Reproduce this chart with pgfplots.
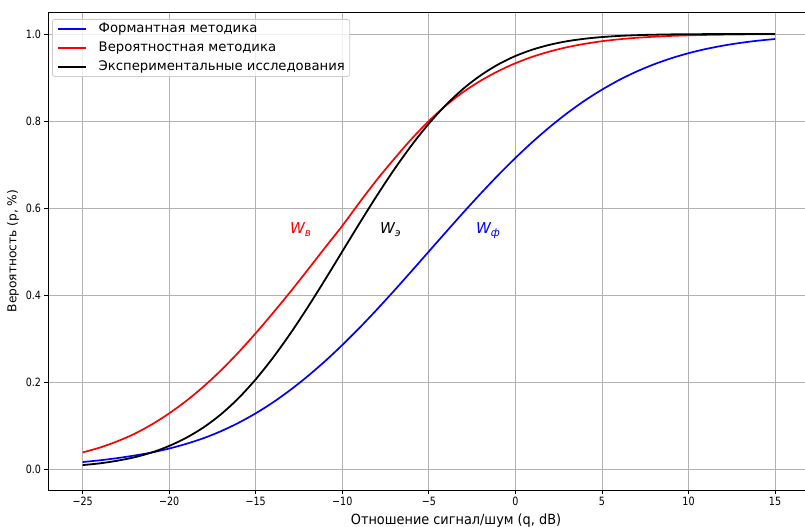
\documentclass[border=0pt]{standalone}
\usepackage{fontspec}
\setmainfont{DejaVu Sans}
\newfontfamily\tickfont{DejaVu Sans}[FakeStretch=0.84]
\newfontfamily\labfont{DejaVu Sans}[FakeStretch=0.92]
\usepackage{pgfplots}
\pgfplotsset{compat=1.18}
\begin{document}
\begin{tikzpicture}
\begin{axis}[
  scale only axis, width=757bp, height=478bp,
  xmin=-27, xmax=16.73, ymin=-0.0483, ymax=1.0506,
  axis x line*=box, axis y line*=left,
  axis line style={black, line width=0.8bp},
  xtick pos=left, ytick pos=left,
  tick align=outside, major tick length=3.5bp,
  tick style={black, line width=0.8bp},
  xtick={-25,-20,-15,-10,-5,0,5,10,15},
  xticklabels={−25,−20,−15,−10,−5,0,5,10,15},
  ytick={0,0.2,0.4,0.6,0.8,1.0},
  yticklabels={0.0,0.2,0.4,0.6,0.8,1.0},
  ticklabel style={font=\fontsize{11.4bp}{13bp}\tickfont},
  xmajorgrids, ymajorgrids,
  grid style={gray!60, line width=0.8bp},
  every axis x label/.style={at={(axis description cs:0.539,0)}, anchor=base, yshift=-34bp},
  every axis y label/.style={at={(axis description cs:0,0.5)}, xshift=-31.5bp, rotate=90, anchor=base},
  xlabel={\fontsize{14bp}{16bp}\labfont Отношение сигнал/шум (q, dB)},
  ylabel={\fontsize{12.2bp}{14bp}\selectfont Вероятность (р, \%)},
  legend cell align=left,
  legend style={at={(0,1)}, anchor=north west, xshift=4bp, yshift=-7bp,
    draw=gray!40, line width=0.8bp, rounded corners=2.5bp, fill=white, fill opacity=0.8, text opacity=1,
    inner xsep=5bp, inner ysep=0.5bp,
    font=\fontsize{13.2bp}{16bp}\selectfont,
    nodes={inner xsep=0bp, inner ysep=2.85bp, text height=10bp, text depth=3bp},
    /tikz/every odd column/.append style={column sep=11.5bp}},
  legend image code/.code={\draw[#1] (0bp,0bp) -- (28bp,0bp);},
]
\addplot[blue, line width=1.7bp, smooth] coordinates {
(-25,0.016)(-24,0.020)(-23,0.025)(-22,0.031)(-21,0.038)(-20,0.047)(-19,0.058)(-18,0.071)(-17,0.087)(-16,0.106)
(-15,0.128)(-14,0.1532)(-13,0.1817)(-12,0.2133)(-11,0.2477)(-10,0.285)(-9,0.3247)(-8,0.3666)(-7,0.4101)(-6,0.4548)
(-5,0.5)(-4,0.5452)(-3,0.5899)(-2,0.6334)(-1,0.6753)(0,0.715)(1,0.7523)(2,0.7867)(3,0.8183)(4,0.8468)
(5,0.872)(6,0.8944)(7,0.9137)(8,0.9302)(9,0.9442)(10,0.9559)(11,0.9655)(12,0.9733)(13,0.9796)(14,0.9846)(15,0.9885)};
\addlegendentry{Формантная методика}
\addplot[red, line width=1.7bp, smooth] coordinates {
(-25,0.0381)(-24,0.0493)(-23,0.0636)(-22,0.0809)(-21,0.1025)(-20,0.1279)(-19,0.157)(-18,0.1901)(-17,0.2271)(-16,0.268)
(-15,0.3122)(-14,0.3589)(-13,0.4073)(-12,0.4576)(-11,0.5087)(-10,0.559)(-9,0.613)(-8,0.665)(-7,0.713)(-6,0.7587)
(-5,0.8)(-4,0.836)(-3,0.867)(-2,0.8928)(-1,0.9145)(0,0.9328)(1,0.9479)(2,0.96)(3,0.9698)(4,0.9774)
(5,0.9834)(6,0.9879)(7,0.9913)(8,0.9937)(9,0.9956)(10,0.9969)(11,0.9979)(12,0.9985)(13,0.999)(14,0.9993)(15,0.9995)};
\addlegendentry{Вероятностная методика}
\addplot[black, line width=1.8bp, smooth] coordinates {
(-25,0.009)(-24,0.013)(-23,0.019)(-22,0.027)(-21,0.038)(-20,0.053)(-19,0.072)(-18,0.096)(-17,0.126)(-16,0.1626)
(-15,0.2061)(-14,0.256)(-13,0.3114)(-12,0.3715)(-11,0.4349)(-10,0.5)(-9,0.5651)(-8,0.6285)(-7,0.6886)(-6,0.744)
(-5,0.7939)(-4,0.8374)(-3,0.8745)(-2,0.9051)(-1,0.9299)(0,0.9494)(1,0.9643)(2,0.9754)(3,0.9835)(4,0.9891)
(5,0.993)(6,0.9956)(7,0.9973)(8,0.9984)(9,0.9991)(10,0.9995)(11,0.9997)(12,0.9998)(13,0.9999)(14,1.0)(15,1.0)};
\addlegendentry{Экспериментальные исследования}
\node[anchor=base west, inner sep=0pt, text=red, font=\fontsize{15bp}{18bp}\selectfont\itshape] at (axis cs:-13.03,0.542) {W\raisebox{-0.2em}{\fontsize{10.5bp}{12bp}\selectfont в}};
\node[anchor=base west, inner sep=0pt, text=black, font=\fontsize{15bp}{18bp}\selectfont\itshape] at (axis cs:-7.83,0.542) {W\raisebox{-0.2em}{\fontsize{10.5bp}{12bp}\selectfont э}};
\node[anchor=base west, inner sep=0pt, text=blue, font=\fontsize{15bp}{18bp}\selectfont\itshape] at (axis cs:-2.28,0.542) {W\raisebox{-0.2em}{\fontsize{10.5bp}{12bp}\selectfont ф}};
\coordinate (BL) at (rel axis cs:0,0);
\coordinate (TR) at (rel axis cs:1,1);
\end{axis}
\pgfresetboundingbox
\useasboundingbox ([xshift=-48bp,yshift=-37bp]BL) rectangle ([yshift=12bp]TR);
\end{tikzpicture}
\end{document}
